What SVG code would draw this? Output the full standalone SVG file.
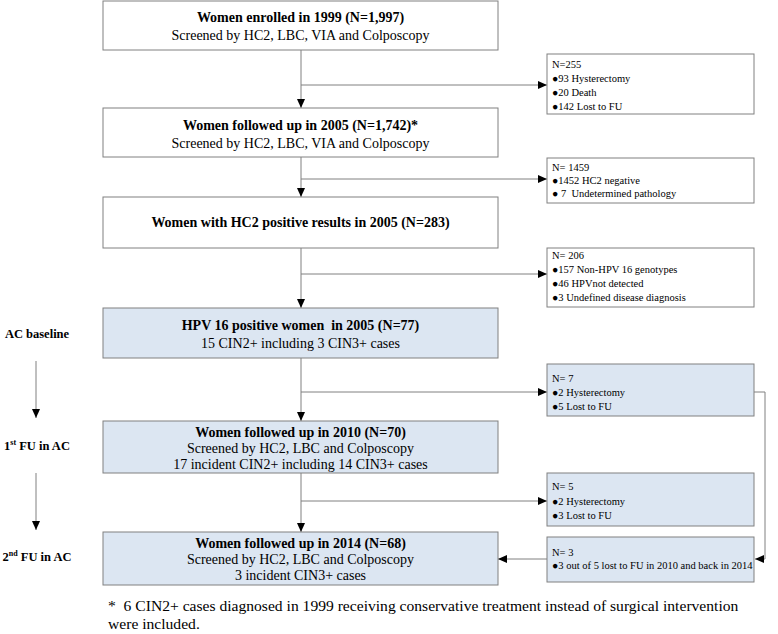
<svg xmlns="http://www.w3.org/2000/svg" width="778" height="634" viewBox="0 0 778 634">
<style>
.box{fill:#ffffff;stroke:#808080;stroke-width:1}
.blue{fill:#dce6f2;stroke:#808080;stroke-width:1}
.t{font-family:"Liberation Serif","Times New Roman",serif;font-size:14px;fill:#000}
.b{font-weight:bold}
.side{font-family:"Liberation Serif","Times New Roman",serif;font-size:12.5px;font-weight:bold;fill:#000}
.fn{font-family:"Liberation Serif","Times New Roman",serif;font-size:15.6px;fill:#000}
.s{font-family:"Liberation Serif","Times New Roman",serif;font-size:10.5px;fill:#000}
.c{fill:none;stroke:#808080;stroke-width:1}
</style>
<defs>
<marker id="ah" markerUnits="userSpaceOnUse" markerWidth="9" markerHeight="8" refX="9" refY="4" orient="auto">
<path d="M0,0 L9,4 L0,8 z" fill="#000"/>
</marker>
</defs>
<rect width="778" height="634" fill="#ffffff"/>

<g id="connectors">
<line class="c" x1="301" y1="50" x2="301" y2="108" marker-end="url(#ah)"/>
<line class="c" x1="301" y1="157" x2="301" y2="197" marker-end="url(#ah)"/>
<line class="c" x1="301" y1="248" x2="301" y2="308" marker-end="url(#ah)"/>
<line class="c" x1="301" y1="358" x2="301" y2="421" marker-end="url(#ah)"/>
<line class="c" x1="301" y1="473" x2="301" y2="532" marker-end="url(#ah)"/>
<line class="c" x1="301" y1="85" x2="547" y2="85" marker-end="url(#ah)"/>
<line class="c" x1="301" y1="179" x2="547" y2="179" marker-end="url(#ah)"/>
<line class="c" x1="301" y1="274" x2="547" y2="274" marker-end="url(#ah)"/>
<line class="c" x1="301" y1="392" x2="547" y2="392" marker-end="url(#ah)"/>
<line class="c" x1="301" y1="501" x2="547" y2="501" marker-end="url(#ah)"/>
<polyline class="c" points="754,392 765,392 765,559 755,559" marker-end="url(#ah)"/>
<line class="c" x1="547" y1="559" x2="498" y2="559" marker-end="url(#ah)"/>
<line class="c" x1="36" y1="361" x2="36" y2="418" marker-end="url(#ah)"/>
<line class="c" x1="36" y1="473" x2="36" y2="530" marker-end="url(#ah)"/>
</g>

<g id="box1">
<rect class="box" x="103" y="1" width="395" height="49"/>
<text class="t b" x="300.5" y="22" text-anchor="middle">Women enrolled in 1999 (N=1,997)</text>
<text class="t" x="300.5" y="40" text-anchor="middle">Screened by HC2, LBC, VIA and Colposcopy</text>
</g>
<g id="box2">
<rect class="box" x="103" y="108" width="395" height="49"/>
<text class="t b" x="300.5" y="130" text-anchor="middle">Women followed up in 2005 (N=1,742)*</text>
<text class="t" x="300.5" y="148" text-anchor="middle">Screened by HC2, LBC, VIA and Colposcopy</text>
</g>
<g id="box3">
<rect class="box" x="103" y="197" width="395" height="51"/>
<text class="t b" x="300.5" y="227" text-anchor="middle">Women with HC2 positive results in 2005 (N=283)</text>
</g>
<g id="box4">
<rect class="blue" x="103" y="308" width="395" height="50"/>
<text class="t b" x="300.5" y="330" text-anchor="middle" xml:space="preserve">HPV 16 positive women  in 2005 (N=77)</text>
<text class="t" x="300.5" y="348" text-anchor="middle">15 CIN2+ including 3 CIN3+ cases</text>
</g>
<g id="box5">
<rect class="blue" x="103" y="421" width="395" height="52"/>
<text class="t b" x="300.5" y="437" text-anchor="middle">Women followed up in 2010 (N=70)</text>
<text class="t" x="300.5" y="453" text-anchor="middle">Screened by HC2, LBC and Colposcopy</text>
<text class="t" x="300.5" y="469" text-anchor="middle">17 incident CIN2+ including 14 CIN3+ cases</text>
</g>
<g id="box6">
<rect class="blue" x="103" y="532" width="395" height="53"/>
<text class="t b" x="300.5" y="548" text-anchor="middle">Women followed up in 2014 (N=68)</text>
<text class="t" x="300.5" y="564" text-anchor="middle">Screened by HC2, LBC and Colposcopy</text>
<text class="t" x="300.5" y="580" text-anchor="middle">3 incident CIN3+ cases</text>
</g>

<g id="side1"><text class="side" x="37" y="338" text-anchor="middle">AC baseline</text></g>
<g id="side2"><text class="side" x="37" y="450" text-anchor="middle">1<tspan font-size="8" dy="-5">st</tspan><tspan dy="5"> FU in AC</tspan></text></g>
<g id="side3"><text class="side" x="37" y="561" text-anchor="middle">2<tspan font-size="8" dy="-5">nd</tspan><tspan dy="5"> FU in AC</tspan></text></g>

<g id="excl1">
<rect class="box" x="547" y="54" width="207" height="60"/>
<text class="s" x="552" y="68">N=255</text>
<text class="s" x="552" y="82">●93 Hysterectomy</text>
<text class="s" x="552" y="96">●20 Death</text>
<text class="s" x="552" y="110">●142 Lost to FU</text>
</g>
<g id="excl2">
<rect class="box" x="547" y="158" width="207" height="45"/>
<text class="s" x="552" y="171">N= 1459</text>
<text class="s" x="552" y="184">●1452 HC2 negative</text>
<text class="s" x="552" y="197" xml:space="preserve">● 7  Undetermined pathology</text>
</g>
<g id="excl3">
<rect class="box" x="547" y="248" width="207" height="59"/>
<text class="s" x="552" y="259">N= 206</text>
<text class="s" x="552" y="273">●157 Non-HPV 16 genotypes</text>
<text class="s" x="552" y="287">●46 HPVnot detected</text>
<text class="s" x="552" y="301">●3 Undefined disease diagnosis</text>
</g>
<g id="excl4">
<rect class="blue" x="547" y="364" width="207" height="52"/>
<text class="s" x="552" y="382">N= 7</text>
<text class="s" x="552" y="396">●2 Hysterectomy</text>
<text class="s" x="552" y="410">●5 Lost to FU</text>
</g>
<g id="excl5">
<rect class="blue" x="547" y="473" width="207" height="53"/>
<text class="s" x="552" y="490">N= 5</text>
<text class="s" x="552" y="505">●2 Hysterectomy</text>
<text class="s" x="552" y="519">●3 Lost to FU</text>
</g>
<g id="excl6">
<rect class="blue" x="547" y="537" width="207" height="45"/>
<text class="s" x="552" y="556">N= 3</text>
<text class="s" x="552" y="569">●3 out of 5 lost to FU in 2010 and back in 2014</text>
</g>

<g id="footnote">
<text class="fn" x="108" y="611" xml:space="preserve">*  6 CIN2+ cases diagnosed in 1999 receiving conservative treatment instead of surgical intervention</text>
<text class="fn" x="108" y="629">were included.</text>
</g>
</svg>
